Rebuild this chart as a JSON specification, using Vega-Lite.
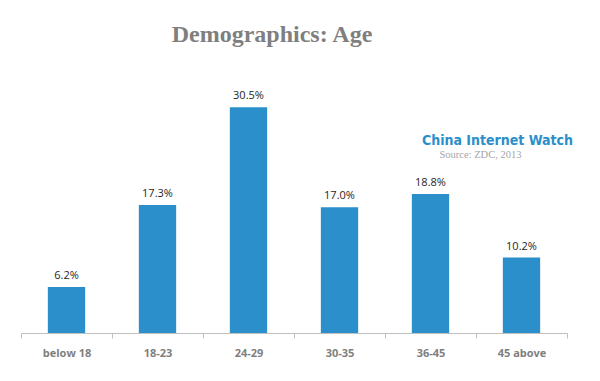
{
  "$schema": "https://vega.github.io/schema/vega-lite/v6.json",
  "width": 546,
  "height": 259,
  "autosize": "none",
  "padding": {"left": 21, "top": 74, "right": 33, "bottom": 48},
  "background": "white",
  "title": {
    "text": "Demographics: Age",
    "font": "Liberation Serif",
    "fontSize": 24,
    "fontWeight": "bold",
    "color": "#7f7f7f",
    "anchor": "middle",
    "dx": -22,
    "offset": 27
  },
  "config": {"view": {"stroke": null}},
  "data": {
    "values": [
      {"age": "below 18", "pct": 6.2, "label": "6.2%"},
      {"age": "18-23", "pct": 17.3, "label": "17.3%"},
      {"age": "24-29", "pct": 30.5, "label": "30.5%"},
      {"age": "30-35", "pct": 17.0, "label": "17.0%"},
      {"age": "36-45", "pct": 18.8, "label": "18.8%"},
      {"age": "45 above", "pct": 10.2, "label": "10.2%"}
    ]
  },
  "layer": [
    {
      "mark": {"type": "bar", "color": "#2a8fcb", "width": {"band": 0.41}},
      "encoding": {
        "x": {
          "field": "age", "type": "nominal",
          "scale": {"domain": ["below 18", "18-23", "24-29", "30-35", "36-45", "45 above"], "paddingInner": 0, "paddingOuter": 0},
          "axis": {
            "title": null, "labelAngle": 0, "tickBand": "extent",
            "domainColor": "#bfbfbf", "tickColor": "#bfbfbf", "tickSize": 5,
            "labelFont": "Open Sans", "labelFontSize": 11, "labelFontWeight": "bold",
            "labelColor": "#7f7f7f", "labelPadding": 9
          }
        },
        "y": {
          "field": "pct", "type": "quantitative",
          "scale": {"domain": [0, 35]},
          "axis": null
        }
      }
    },
    {
      "mark": {"type": "text", "dy": -11, "font": "Open Sans", "fontSize": 11, "color": "#262626"},
      "encoding": {
        "x": {"field": "age", "type": "nominal"},
        "y": {"field": "pct", "type": "quantitative"},
        "text": {"field": "label"}
      }
    },
    {
      "data": {"values": [{"t": "China Internet Watch", "cat": "45 above", "v": 26.0}]},
      "mark": {"type": "text", "font": "DejaVu Sans Condensed", "fontSize": 14, "fontWeight": "bold", "color": "#2a8fcb", "dx": -24},
      "encoding": {
        "x": {"field": "cat", "type": "nominal"},
        "y": {"field": "v", "type": "quantitative"},
        "text": {"field": "t"}
      }
    },
    {
      "data": {"values": [{"t": "Source: ZDC, 2013", "cat": "45 above", "v": 24.0}]},
      "mark": {"type": "text", "font": "Liberation Serif", "fontSize": 10.5, "color": "#a6a6a6", "align": "left", "dx": -82},
      "encoding": {
        "x": {"field": "cat", "type": "nominal"},
        "y": {"field": "v", "type": "quantitative"},
        "text": {"field": "t"}
      }
    }
  ]
}
